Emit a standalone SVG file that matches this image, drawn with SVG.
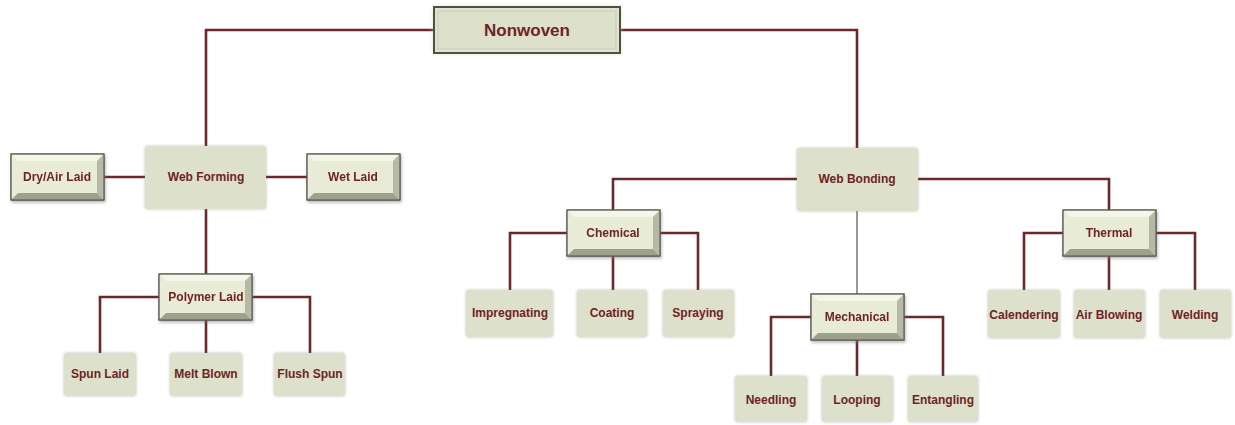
<svg xmlns="http://www.w3.org/2000/svg" xmlns:xlink="http://www.w3.org/1999/xlink" width="1235" height="425" viewBox="0 0 1235 425">
<style>
.lbl{font-family:"Liberation Sans",Arial,sans-serif;font-weight:bold;font-size:12px;fill:#6e2424;text-anchor:middle;dominant-baseline:central}
.title{font-size:17px}
.flat{fill:#dde0cb;filter:url(#soft)}
.conn{fill:none;stroke:#6b2828;stroke-width:2.6}
.thin{fill:none;stroke:#333;stroke-width:1}
</style>
<defs>
<filter id="soft" x="-20%" y="-20%" width="140%" height="140%">
<feDropShadow dx="0" dy="0" stdDeviation="1.8" flood-color="#8a8a80" flood-opacity="0.55"/>
</filter>
<filter id="glow" x="-20%" y="-30%" width="140%" height="160%">
<feDropShadow dx="0" dy="0" stdDeviation="2.5" flood-color="#c9dca0" flood-opacity="0.9"/>
</filter>
<filter id="sh" x="-20%" y="-20%" width="140%" height="150%">
<feDropShadow dx="1" dy="2" stdDeviation="1.5" flood-color="#777" flood-opacity="0.5"/>
</filter>
<g id="bevel">
<rect x="0" y="0" width="93" height="46" fill="#e6e9d3" stroke="#55554b" stroke-width="1"/>
<polygon points="0.5,0.5 92.5,0.5 86,7 7,7" fill="#f4f6e8"/>
<polygon points="0.5,0.5 7,7 7,39 0.5,45.5" fill="#e9ecd9"/>
<polygon points="0.5,45.5 7,39 86,39 92.5,45.5" fill="#9ea18b"/>
<polygon points="92.5,0.5 92.5,45.5 86,39 86,7" fill="#b6b9a3"/>
<rect x="7" y="7" width="79" height="32" fill="#e8ebd6"/>
<rect x="0" y="0" width="93" height="46" fill="none" stroke="#55554b" stroke-width="1"/>
</g>
</defs>
<rect width="1235" height="425" fill="#ffffff"/>
<g id="connectors">
<path class="conn" d="M434,30 H206 V146"/>
<path class="conn" d="M620,30 H857 V148"/>
<path class="conn" d="M104,177 H145"/>
<path class="conn" d="M266,177 H307"/>
<path class="conn" d="M206,209 V274"/>
<path class="conn" d="M159,297 H100 V353"/>
<path class="conn" d="M206,320 V353"/>
<path class="conn" d="M252,297 H310 V353"/>
<path class="conn" d="M797,179 H613 V210"/>
<path class="conn" d="M918,179 H1109 V210"/>
<path class="thin" d="M857,211 V294"/>
<path class="conn" d="M567,233 H510 V290"/>
<path class="conn" d="M613,256 V290"/>
<path class="conn" d="M660,233 H698 V290"/>
<path class="conn" d="M811,317 H771 V376"/>
<path class="conn" d="M857,340 V376"/>
<path class="conn" d="M904,317 H943 V376"/>
<path class="conn" d="M1063,233 H1024 V290"/>
<path class="conn" d="M1109,256 V290"/>
<path class="conn" d="M1156,233 H1195 V290"/>
</g>
<g id="nonwoven">
<rect x="434" y="7" width="186" height="46" fill="#dfe2cc" filter="url(#glow)"/>
<rect x="438" y="11" width="178" height="38" fill="#dde0ca" stroke="#c9ccb6" stroke-width="1"/>
<rect x="434" y="7" width="186" height="46" fill="none" stroke="#4f4f46" stroke-width="2"/>
<text class="lbl title" x="527" y="30">Nonwoven</text>
</g>
<g id="web-forming">
<rect class="flat" x="145" y="146" width="121" height="63" rx="3"/>
<text class="lbl" x="206" y="177">Web Forming</text>
</g>
<g id="dry-air-laid" filter="url(#sh)">
<use href="#bevel" x="11" y="154"/>
<text class="lbl" x="57" y="177">Dry/Air Laid</text>
</g>
<g id="wet-laid" filter="url(#sh)">
<use href="#bevel" x="307" y="154"/>
<text class="lbl" x="353" y="177">Wet Laid</text>
</g>
<g id="polymer-laid" filter="url(#sh)">
<use href="#bevel" x="159" y="274"/>
<text class="lbl" x="206" y="297">Polymer Laid</text>
</g>
<g id="spun-laid">
<rect class="flat" x="64" y="353" width="72" height="43" rx="3"/>
<text class="lbl" x="100" y="374">Spun Laid</text>
</g>
<g id="melt-blown">
<rect class="flat" x="170" y="353" width="72" height="43" rx="3"/>
<text class="lbl" x="206" y="374">Melt Blown</text>
</g>
<g id="flush-spun">
<rect class="flat" x="274" y="353" width="71" height="43" rx="3"/>
<text class="lbl" x="310" y="374">Flush Spun</text>
</g>
<g id="web-bonding">
<rect class="flat" x="797" y="148" width="121" height="63" rx="3"/>
<text class="lbl" x="857" y="179">Web Bonding</text>
</g>
<g id="chemical" filter="url(#sh)">
<use href="#bevel" x="567" y="210"/>
<text class="lbl" x="613" y="233">Chemical</text>
</g>
<g id="impregnating">
<rect class="flat" x="466" y="290" width="87" height="47" rx="3"/>
<text class="lbl" x="510" y="313">Impregnating</text>
</g>
<g id="coating">
<rect class="flat" x="577" y="290" width="70" height="47" rx="3"/>
<text class="lbl" x="612" y="313">Coating</text>
</g>
<g id="spraying">
<rect class="flat" x="663" y="290" width="71" height="47" rx="3"/>
<text class="lbl" x="698" y="313">Spraying</text>
</g>
<g id="mechanical" filter="url(#sh)">
<use href="#bevel" x="811" y="294"/>
<text class="lbl" x="857" y="317">Mechanical</text>
</g>
<g id="needling">
<rect class="flat" x="735" y="376" width="72" height="46" rx="3"/>
<text class="lbl" x="771" y="400">Needling</text>
</g>
<g id="looping">
<rect class="flat" x="822" y="376" width="71" height="46" rx="3"/>
<text class="lbl" x="857" y="400">Looping</text>
</g>
<g id="entangling">
<rect class="flat" x="908" y="376" width="70" height="46" rx="3"/>
<text class="lbl" x="943" y="400">Entangling</text>
</g>
<g id="thermal" filter="url(#sh)">
<use href="#bevel" x="1063" y="210"/>
<text class="lbl" x="1109" y="233">Thermal</text>
</g>
<g id="calendering">
<rect class="flat" x="988" y="290" width="72" height="48" rx="3"/>
<text class="lbl" x="1024" y="315">Calendering</text>
</g>
<g id="air-blowing">
<rect class="flat" x="1074" y="290" width="71" height="48" rx="3"/>
<text class="lbl" x="1109" y="315">Air Blowing</text>
</g>
<g id="welding">
<rect class="flat" x="1160" y="290" width="71" height="48" rx="3"/>
<text class="lbl" x="1195" y="315">Welding</text>
</g>
</svg>
